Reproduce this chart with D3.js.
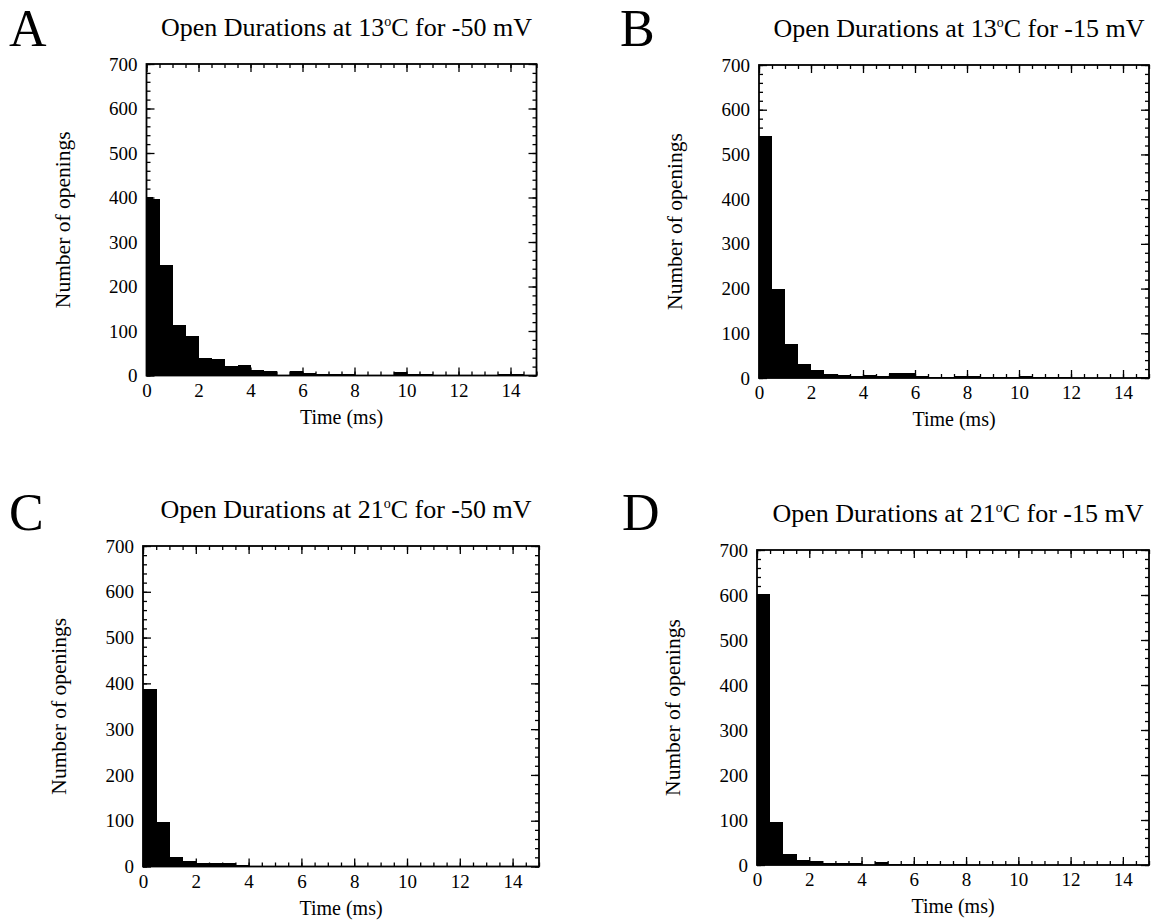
<!DOCTYPE html>
<html>
<head>
<meta charset="utf-8">
<script src="https://cdn.jsdelivr.net/npm/d3@7"></script>
<style>
  html, body { margin: 0; padding: 0; background: #fff; }
  svg { display: block; font-family: "Liberation Serif", "Times New Roman", serif; }
</style>
</head>
<body>
<svg id="chart" width="1153" height="923"></svg>
<script>
// Open-duration histograms (number of openings per 0.5 ms bin)
const xTicks = [0, 2, 4, 6, 8, 10, 12, 14];
const yTicks = [0, 100, 200, 300, 400, 500, 600, 700];

// Panel A: first bin is split at 0.25 ms
const edgesA = [0, 0.25].concat(d3.range(0.5, 15.01, 0.5));
const countsA = [402, 396, 249, 114, 88, 39, 37, 21, 23, 13, 9, 2, 9, 6, 3, 3, 3, 2, 2, 2, 7, 4, 4, 1, 2, 2, 1, 2, 4, 4, 2];

const edgesHalf = d3.range(0, 15.01, 0.5);
const countsB = [542, 199, 77, 31, 17, 9, 6, 5, 6, 4, 11, 11, 4, 3, 2, 4, 4, 3, 3, 2, 4, 2, 2, 2, 1, 1, 1, 1, 1, 2];
const countsC = [387, 98, 20, 13, 8, 7, 7, 3, 2, 1, 1, 1, 1, 1, 1, 1, 0, 1, 1, 0, 1, 0, 1, 0, 0, 1, 0, 0, 0, 1];
const countsD = [602, 96, 24, 12, 10, 5, 4, 4, 1, 6, 2, 2, 3, 2, 1, 2, 1, 1, 1, 1, 1, 1, 1, 1, 1, 1, 1, 1, 1, 1];

const letters = ["A", "B", "C", "D"];
const temps = ["13", "13", "21", "21"];
const volts = ["-50 mV", "-15 mV", "-50 mV", "-15 mV"];

const panels = [
  { letter: letters[0], temp: temps[0], volt: volts[0], edges: edgesA, counts: countsA,
    box: { left: 146.5, right: 536.5, top: 64, bottom: 375.5 }, letterPos: [9, 46] },
  { letter: letters[1], temp: temps[1], volt: volts[1], edges: edgesHalf, counts: countsB,
    box: { left: 759, right: 1149, top: 65, bottom: 378 }, letterPos: [620, 46] },
  { letter: letters[2], temp: temps[2], volt: volts[2], edges: edgesHalf, counts: countsC,
    box: { left: 143, right: 539, top: 546, bottom: 866.5 }, letterPos: [9, 530] },
  { letter: letters[3], temp: temps[3], volt: volts[3], edges: edgesHalf, counts: countsD,
    box: { left: 757, right: 1149, top: 550, bottom: 865 }, letterPos: [622, 530] }
];

const svg = d3.select("#chart");

panels.forEach(p => {
  const b = p.box;
  const w = b.right - b.left, h = b.bottom - b.top;
  const g = svg.append("g").attr("transform", `translate(${b.left},${b.top})`);

  const x = d3.scaleLinear().domain([0, 15]).range([0, w]);
  const y = d3.scaleLinear().domain([0, 700]).range([h, 0]);

  // bars
  const bins = p.counts.map((c, i) => ({ x0: p.edges[i], x1: p.edges[i + 1], n: c }));
  g.append("g").selectAll("rect").data(bins).join("rect")
    .attr("x", d => x(d.x0))
    .attr("width", d => x(d.x1) - x(d.x0) + 0.3)
    .attr("y", d => y(d.n))
    .attr("height", d => y(0) - y(d.n))
    .attr("fill", "#000")
    .attr("shape-rendering", "crispEdges");

  const minorX = d3.range(0, 15.01, 0.5);
  const minorY = d3.range(0, 700.1, 20);

  const styleAxis = sel => {
    sel.select(".domain").remove();
    sel.selectAll("line").attr("stroke", "#000").attr("stroke-width", 1.3);
    sel.selectAll("text").attr("font-size", 19).attr("fill", "#000")
      .attr("font-family", '"Liberation Serif", "Times New Roman", serif');
  };

  // bottom
  g.append("g").attr("transform", `translate(0,${h})`)
    .call(d3.axisBottom(x).tickValues(minorX).tickFormat("").tickSize(-4)).call(styleAxis);
  g.append("g").attr("transform", `translate(0,${h})`)
    .call(d3.axisBottom(x).tickValues(xTicks).tickFormat(d3.format("d")).tickSize(-8).tickPadding(8)).call(styleAxis);
  // top
  g.append("g")
    .call(d3.axisTop(x).tickValues(minorX).tickFormat("").tickSize(-4)).call(styleAxis);
  g.append("g")
    .call(d3.axisTop(x).tickValues(xTicks).tickFormat("").tickSize(-8)).call(styleAxis);
  // left
  g.append("g")
    .call(d3.axisLeft(y).tickValues(minorY).tickFormat("").tickSize(-4)).call(styleAxis);
  g.append("g")
    .call(d3.axisLeft(y).tickValues(yTicks).tickFormat(d3.format("d")).tickSize(-8).tickPadding(9)).call(styleAxis);
  // right
  g.append("g").attr("transform", `translate(${w},0)`)
    .call(d3.axisRight(y).tickValues(minorY).tickFormat("").tickSize(-4)).call(styleAxis);
  g.append("g").attr("transform", `translate(${w},0)`)
    .call(d3.axisRight(y).tickValues(yTicks).tickFormat("").tickSize(-8)).call(styleAxis);

  // frame
  g.append("rect").attr("width", w).attr("height", h)
    .attr("fill", "none").attr("stroke", "#000").attr("stroke-width", 1.8);

  // title
  const t = g.append("text")
    .attr("x", w / 2 + 5).attr("y", -28)
    .attr("text-anchor", "middle")
    .attr("font-size", 26).attr("fill", "#000");
  t.append("tspan").text(`Open Durations at ${p.temp}`);
  t.append("tspan").attr("dy", -10).attr("font-size", 14).text("o");
  t.append("tspan").attr("dy", 10).text(`C for ${p.volt}`);

  // axis titles
  g.append("text")
    .attr("x", w / 2).attr("y", h + 48)
    .attr("text-anchor", "middle").attr("font-size", 20).attr("fill", "#000")
    .text("Time (ms)");
  g.append("text")
    .attr("transform", `translate(-77,${h / 2}) rotate(-90)`)
    .attr("text-anchor", "middle").attr("font-size", 21.5).attr("fill", "#000")
    .text("Number of openings");

  // panel letter
  svg.append("text")
    .attr("x", p.letterPos[0]).attr("y", p.letterPos[1])
    .attr("font-size", 52).attr("fill", "#000")
    .text(p.letter);
});
</script>
</body>
</html>
